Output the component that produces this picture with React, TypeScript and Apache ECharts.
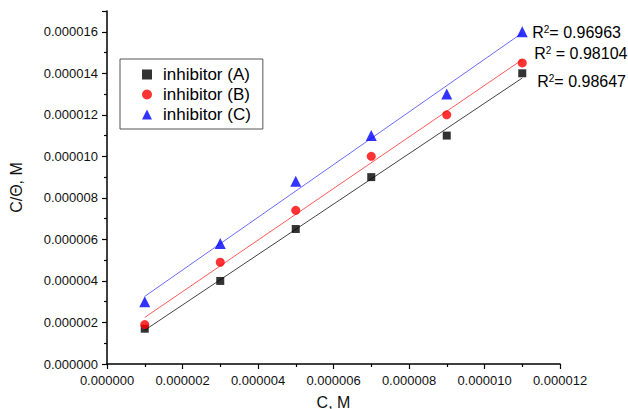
import React, { useEffect, useRef } from "react";
import * as echarts from "echarts";

// Concentration C (M) and C/θ (M) for each inhibitor
const concentrations = [1e-6, 3e-6, 5e-6, 7e-6, 9e-6, 11e-6];
const inhibitorA = [1.7e-6, 4.0e-6, 6.5e-6, 9.0e-6, 11.0e-6, 14.0e-6];
const inhibitorB = [1.9e-6, 4.9e-6, 7.4e-6, 10.0e-6, 12.0e-6, 14.5e-6];
const inhibitorC = [3.0e-6, 5.8e-6, 8.8e-6, 11.0e-6, 13.0e-6, 16.0e-6];
const seriesNames = ["inhibitor (A)", "inhibitor (B)", "inhibitor (C)"];
const rSquaredLabels = ["0.98647", "0.98104", "0.96963"];

const FONT = "'Liberation Sans', Arial, sans-serif";

// Least-squares line through the points, evaluated at the first and last C
function fitLine(xs: number[], ys: number[]): number[][] {
  const n = xs.length;
  const mx = xs.reduce((a, b) => a + b, 0) / n;
  const my = ys.reduce((a, b) => a + b, 0) / n;
  let sxy = 0;
  let sxx = 0;
  for (let i = 0; i < n; i++) {
    sxy += (xs[i] - mx) * (ys[i] - my);
    sxx += (xs[i] - mx) * (xs[i] - mx);
  }
  const slope = sxy / sxx;
  const icpt = my - slope * mx;
  const x0 = xs[0];
  const x1 = xs[n - 1];
  return [
    [x0, icpt + slope * x0],
    [x1, icpt + slope * x1],
  ];
}

const pairs = (ys: number[]) => concentrations.map((x, i) => [x, ys[i]]);

export default function App() {
  const ref = useRef<HTMLDivElement>(null);

  useEffect(() => {
    if (!ref.current) return;
    const chart = echarts.init(ref.current, undefined, { renderer: "svg" });

    const axisCommon = {
      type: "value" as const,
      interval: 2e-6,
      splitLine: { show: false },
      axisLine: { show: true, onZero: false, lineStyle: { color: "#000", width: 1.5 } },
      axisTick: { show: true, inside: false, length: 5, lineStyle: { color: "#000", width: 1.2 } },
      minorTick: { show: true, splitNumber: 2, length: 3, lineStyle: { color: "#000", width: 1.2 } },
      axisLabel: {
        color: "#111",
        fontFamily: FONT,
        fontSize: 13,
        formatter: (v: number) => v.toFixed(6),
      },
    };

    const r2Rich = {
      sup: {
        fontSize: 10,
        lineHeight: 10,
        verticalAlign: "top" as const,
        padding: [0, 0, 6, 0],
        fontFamily: FONT,
        color: "#000",
      },
      b: { fontSize: 16, lineHeight: 16, fontFamily: FONT, color: "#000" },
    };

    chart.setOption({
      animation: false,
      backgroundColor: "#fff",
      grid: {
        left: 107,
        right: 68,
        top: 11,
        bottom: 45,
        containLabel: false,
        outerBoundsMode: "none",
      },
      xAxis: {
        ...axisCommon,
        min: 0,
        max: 12e-6,
        name: "C, M",
        nameLocation: "middle",
        nameGap: 31,
        nameTextStyle: {
          color: "#111",
          fontFamily: FONT,
          fontSize: 16,
          lineHeight: 14,
        },
        axisLabel: { ...axisCommon.axisLabel, margin: 10 },
      },
      yAxis: {
        ...axisCommon,
        min: 0,
        max: 17e-6,
        name: "C/Θ, M",
        nameLocation: "middle",
        nameGap: 83,
        nameTextStyle: { color: "#111", fontFamily: FONT, fontSize: 16, lineHeight: 16 },
        axisLabel: { ...axisCommon.axisLabel, margin: 9, showMaxLabel: false },
      },
      legend: {
        orient: "vertical",
        left: 120,
        top: 59,
        data: [
          { name: seriesNames[0], icon: "rect" },
          { name: seriesNames[1], icon: "circle" },
          { name: seriesNames[2], icon: "triangle" },
        ],
        itemWidth: 10,
        itemHeight: 10,
        itemGap: 3,
        padding: [7, 12, 6, 22],
        borderColor: "#555",
        borderWidth: 1,
        textStyle: { fontFamily: FONT, fontSize: 17, color: "#000", lineHeight: 17, padding: [0, 0, 0, 6] },
      },
      series: [
        {
          name: seriesNames[0],
          type: "scatter",
          symbol: "rect",
          symbolSize: 8,
          itemStyle: { color: "#000" },
          data: pairs(inhibitorA),
          z: 5,
        },
        {
          name: seriesNames[1],
          type: "scatter",
          symbol: "circle",
          symbolSize: 9,
          itemStyle: { color: "#ff0000" },
          data: pairs(inhibitorB),
          z: 5,
        },
        {
          name: seriesNames[2],
          type: "scatter",
          symbol: "triangle",
          symbolSize: 11,
          itemStyle: { color: "#0000ff" },
          data: pairs(inhibitorC),
          z: 5,
        },
        {
          name: "fitA",
          type: "line",
          symbol: "none",
          lineStyle: { color: "#444", width: 1 },
          data: fitLine(concentrations, inhibitorA),
          z: 3,
          endLabel: {
            show: true,
            distance: 15,
            offset: [0, 3],
            formatter: () => `{b|R}{sup|2}{b|= ${rSquaredLabels[0]}}`,
            rich: r2Rich,
          },
        },
        {
          name: "fitB",
          type: "line",
          symbol: "none",
          lineStyle: { color: "#ff5a5a", width: 1 },
          data: fitLine(concentrations, inhibitorB),
          z: 3,
          endLabel: {
            show: true,
            distance: 12,
            offset: [0, -6],
            formatter: () => `{b|R}{sup|2}{b| = ${rSquaredLabels[1]}}`,
            rich: r2Rich,
          },
        },
        {
          name: "fitC",
          type: "line",
          symbol: "none",
          lineStyle: { color: "#6a6aff", width: 1 },
          data: fitLine(concentrations, inhibitorC),
          z: 3,
          endLabel: {
            show: true,
            distance: 10,
            offset: [0, 0],
            formatter: () => `{b|R}{sup|2}{b|= ${rSquaredLabels[2]}}`,
            rich: r2Rich,
          },
        },
      ],
    });

    return () => chart.dispose();
  }, []);

  return (
    <div
      ref={ref}
      style={{ position: "fixed", left: 0, top: 0, width: 628, height: 409 }}
    />
  );
}
